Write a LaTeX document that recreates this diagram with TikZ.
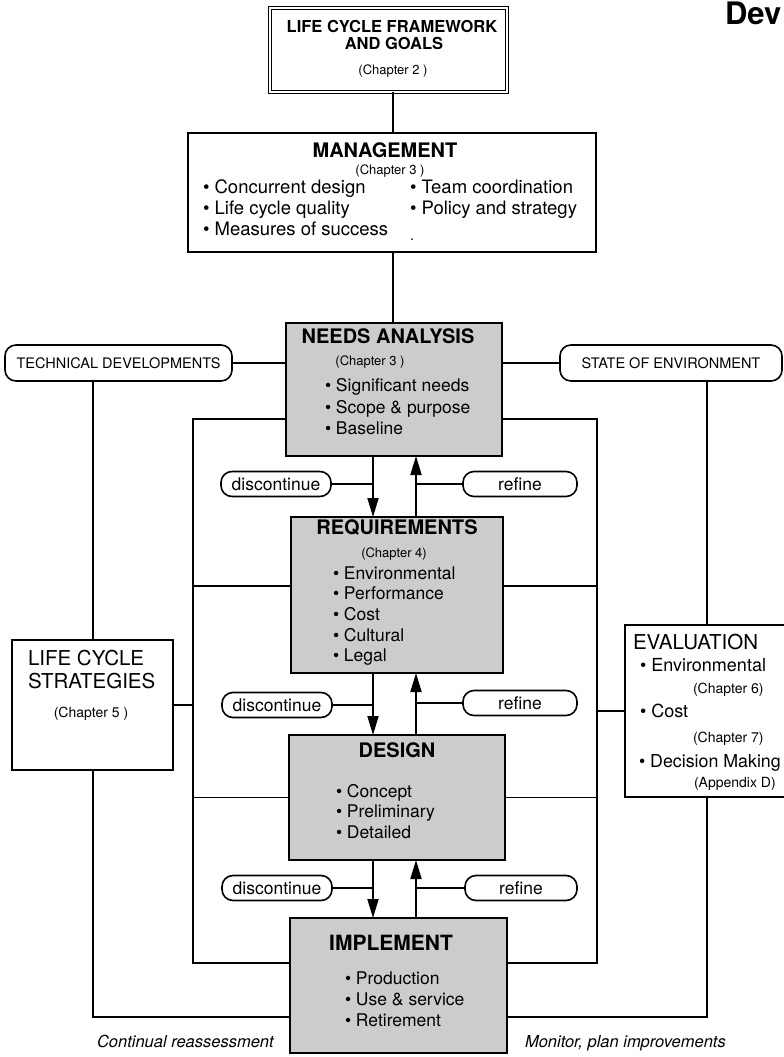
\documentclass[tikz,border=0pt]{standalone}
\usepackage{fontspec}
\setmainfont{TeX Gyre Heros}
\usetikzlibrary{arrows.meta}
\newcommand\fsz[1]{\fontsize{#1}{#1}\selectfont}

\begin{document}
\begin{tikzpicture}[x=1pt,y=-1pt,
  frame/.style={draw,line width=1.7pt,inner sep=0pt,outer sep=0pt},
  shadebox/.style={frame,fill=black!20},
  pill/.style={draw,line width=1.6pt,rounded corners=11pt,inner sep=0pt,outer sep=0pt,font=\fsz{17.5}},
  link/.style={line width=1.6pt},
  boldlink/.style={line width=2.6pt},
  arr/.style={line width=1.8pt,-{Triangle[length=19pt,width=11pt]}},
  lbl/.style={inner sep=0pt,outer sep=0pt,anchor=mid},
  lblw/.style={inner sep=0pt,outer sep=0pt,anchor=mid west},
  title/.style={lbl,font=\fsz{20}\bfseries},
  item/.style={lblw,font=\fsz{17.5}},
  chap/.style={lbl,font=\fsz{13}},
]
\useasboundingbox (0,0) rectangle (784,1057);

% ---------- main boxes ----------
\node[frame,double,double distance=1.6pt,line width=1pt,minimum width=237pt,minimum height=84pt] (top) at (388.5,50) {};
\node[frame,minimum width=408pt,minimum height=119pt] (mgmt) at (392,192.5) {};
\node[shadebox,minimum width=216pt,minimum height=133pt] (needs) at (394,389.5) {};
\node[shadebox,minimum width=212pt,minimum height=156pt] (req) at (397,595) {};
\node[shadebox,minimum width=216pt,minimum height=125pt] (design) at (397,797.5) {};
\node[shadebox,minimum width=217pt,minimum height=135pt] (impl) at (398.5,985.5) {};
\node[frame,minimum width=161pt,minimum height=130pt] (strat) at (92.5,705) {};
\node[frame,minimum width=170pt,minimum height=172pt] (eval) at (710,711) {};
\node[pill,minimum width=227pt,minimum height=36pt,font=\fsz{14.5}] (td) at (118.5,363) {TECHNICAL DEVELOPMENTS};
\node[pill,minimum width=222pt,minimum height=36pt,font=\fsz{14.5}] (soe) at (671,363) {STATE OF ENVIRONMENT};

% ---------- feedback pills ----------
\node[pill,minimum width=110pt,minimum height=25pt] (d1) at (276,484) {discontinue};
\node[pill,minimum width=114pt,minimum height=25pt] (r1) at (520,484) {refine};
\node[pill,minimum width=110pt,minimum height=25pt] (d2) at (277,705) {discontinue};
\node[pill,minimum width=114pt,minimum height=25pt] (r2) at (520,703) {refine};
\node[pill,minimum width=110pt,minimum height=25pt] (d3) at (277,888) {discontinue};
\node[pill,minimum width=112pt,minimum height=25pt] (r3) at (521,888) {refine};

% ---------- texts ----------
\node[lbl,font=\fsz{16.5}\bfseries] (t1) at (392,30) {LIFE CYCLE FRAMEWORK};
\node[lbl,font=\fsz{16.5}\bfseries] (t2) at (394,47) {AND GOALS};
\node[chap] (t3) at (393,72) {(Chapter 2 )};

\node[title] (m1) at (385,155) {MANAGEMENT};
\node[chap] (m2) at (390,172) {(Chapter 3 )};
\node[lblw,font=\fsz{18.5}] (m3) at (203,191) {• Concurrent design};
\node[lblw,font=\fsz{18.5}] (m4) at (203,212) {• Life cycle quality};
\node[lblw,font=\fsz{18.5}] (m5) at (203,233) {• Measures of success};
\node[lblw,font=\fsz{18.5}] (m6) at (410,191) {• Team coordination};
\node[lblw,font=\fsz{18.5}] (m7) at (410,212) {• Policy and strategy};
\node[lblw,font=\fsz{14}] (m8) at (410,238) {.};

\node[title] (n1) at (388,341) {NEEDS ANALYSIS};
\node[chap] (n2) at (370,363) {(Chapter 3 )};
\node[item] (n3) at (325,389) {• Significant needs};
\node[item] (n4) at (325,411) {• Scope \& purpose};
\node[item] (n5) at (325,432) {• Baseline};

\node[title] (q1) at (397,532) {REQUIREMENTS};
\node[chap] (q2) at (394,555) {(Chapter 4)};
\node[item] (q3) at (333,577) {• Environmental};
\node[item] (q4) at (333,597) {• Performance};
\node[item] (q5) at (333,618) {• Cost};
\node[item] (q6) at (333,639) {• Cultural};
\node[item] (q7) at (333,659) {• Legal};

\node[title] (g1) at (397,755) {DESIGN};
\node[item] (g2) at (336,795) {• Concept};
\node[item] (g3) at (336,815) {• Preliminary};
\node[item] (g4) at (336,836) {• Detailed};

\node[title,font=\fsz{21}\bfseries] (i1) at (391,948) {IMPLEMENT};
\node[item] (i2) at (345,982) {• Production};
\node[item] (i3) at (345,1003) {• Use \& service};
\node[item] (i4) at (345,1024) {• Retirement};

\node[lblw,font=\fsz{20.5}] (s1) at (28,663) {LIFE CYCLE};
\node[lblw,font=\fsz{20.5}] (s2) at (28,686) {STRATEGIES};
\node[chap,font=\fsz{14}] (s3) at (91,715) {(Chapter 5 )};

\node[lblw,font=\fsz{20.5}] (e1) at (633,647) {EVALUATION};
\node[lblw,font=\fsz{18}] (e2) at (640,669) {• Environmental};
\node[lblw,font=\fsz{14}] (e3) at (693,691) {(Chapter 6)};
\node[lblw,font=\fsz{18}] (e4) at (640,715) {• Cost};
\node[lblw,font=\fsz{14}] (e5) at (693,740) {(Chapter 7)};
\node[lblw,font=\fsz{17.8}] (e6) at (639,765) {• Decision Making};
\node[lblw,font=\fsz{14}] (e7) at (694,785) {(Appendix D)};

\node[lblw,font=\fsz{16.5}\itshape] (c1) at (97,1045) {Continual reassessment};
\node[lblw,font=\fsz{16.5}\itshape] (c2) at (525,1045) {Monitor, plan improvements};
\node[lblw,font=\fsz{31}\bfseries] (hd) at (725,22) {Dev};

% ---------- helper coordinates ----------
\coordinate (cx) at (393,0);   % spine
\coordinate (xd) at (373,0);   % downward arrows
\coordinate (xu) at (416,0);   % upward arrows
\coordinate (sx) at (93,0);    % left outer rail
\coordinate (ex) at (707,0);   % right outer rail
\coordinate (il) at (193,0);   % left inner rail
\coordinate (ir) at (597,0);   % right inner rail
\coordinate (it) at (0,419);   % inner loop top
\coordinate (ib) at (0,963);   % inner loop bottom
\coordinate (ob) at (0,1017);  % outer loop bottom
\coordinate (qm) at (0,586);   % requirements side links

% ---------- connectors ----------
\draw[link] (top.south -| cx) -- (mgmt.north -| cx);
\draw[link] (mgmt.south -| cx) -- (needs.north -| cx);
\draw[link] (td.east) -- (needs.west |- td.east);
\draw[link] (needs.east |- soe.west) -- (soe.west);

% outer loop
\draw[link] (td.south -| sx) -- (strat.north -| sx);
\draw[link] (strat.south -| sx) |- (impl.west |- ob);
\draw[link] (soe.south -| ex) -- (eval.north -| ex);
\draw[link] (eval.south -| ex) |- (impl.east |- ob);

% inner loop
\draw[link] (needs.west |- it) -| (il |- ib) -- (impl.west |- ib);
\draw[link] (needs.east |- it) -| (ir |- ib) -- (impl.east |- ib);
\draw[link] (req.west |- qm) -- (il |- qm);
\draw[link] (req.east |- qm) -- (ir |- qm);
\draw[link] (design.west) -- (il |- design.west);
\draw[link] (design.east) -- (ir |- design.east);
\draw[link] (strat.east) -- (il |- strat.east);
\draw[link] (eval.west) -- (ir |- eval.west);

% stage arrows
\draw[arr] (needs.south -| xd) -- (req.north -| xd);
\draw[arr] (req.north -| xu) -- (needs.south -| xu);
\draw[arr] (req.south -| xd) -- (design.north -| xd);
\draw[arr] (design.north -| xu) -- (req.south -| xu);
\draw[arr] (design.south -| xd) -- (impl.north -| xd);
\draw[arr] (impl.north -| xu) -- (design.south -| xu);

% pill links
\draw[boldlink] (d1.east) -- (d1.east -| xd);
\draw[link] (r1.west) -- (r1.west -| xu);
\draw[boldlink] (d2.east) -- (d2.east -| xd);
\draw[link] (r2.west) -- (r2.west -| xu);
\draw[boldlink] (d3.east) -- (d3.east -| xd);
\draw[link] (r3.west) -- (r3.west -| xu);
\end{tikzpicture}
\end{document}
